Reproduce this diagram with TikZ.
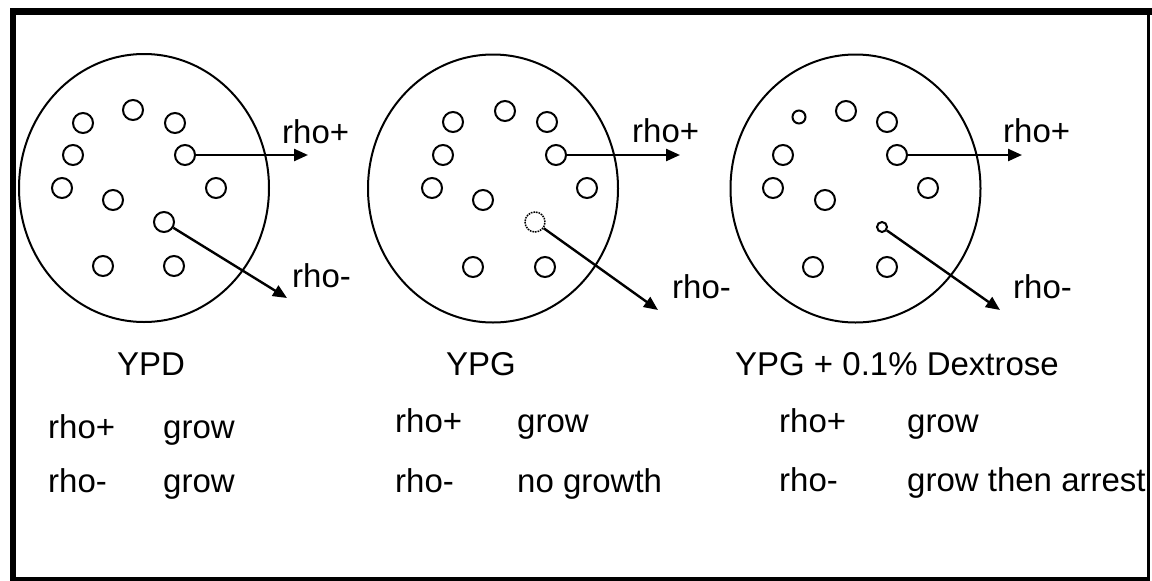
\documentclass[tikz,border=0pt]{standalone}
\usepackage{fontspec}
\setmainfont{Liberation Sans}
\usetikzlibrary{arrows.meta,shapes.geometric}
\begin{document}
\begin{tikzpicture}[x=1pt,y=-1pt,
  plate/.style={draw, ellipse, line width=2pt, minimum width=250pt, minimum height=268pt, inner sep=0pt},
  colony/.style={draw, circle, line width=2pt, minimum size=20pt, inner sep=0pt},
  smallcol/.style={colony, minimum size=#1},
  faintcol/.style={colony, line width=1.5pt, dash pattern=on 1.6pt off 1pt},
  arr/.style={line width=2.4pt, -{Triangle[length=14pt,width=12pt]}},
  lbl/.style={anchor=base west, inner sep=0pt, font=\fontsize{33}{40}\selectfont},
  title/.style={anchor=base, inner sep=0pt, font=\fontsize{33}{40}\selectfont},
  frameline/.style={line width=#1, line cap=rect}]
\useasboundingbox (0,0) rectangle (1152,581);
\fill[white] (0,0) rectangle (1152,581);
% frame
\draw[frameline=6pt] (13,11) -- (13,578);
\draw[frameline=7pt] (13,11.5) -- (1148,11.5);
\draw[frameline=3pt] (1148,11) -- (1148,578);
\draw[frameline=4pt] (13,578.5) -- (1148,578.5);

% ---------- plate 1 (YPD)
\node[plate] (P1) at (144,188) {};
\node[colony] (a1) at (83,123) {};
\node[colony] (a2) at (133,110) {};
\node[colony] (a3) at (175,123) {};
\node[colony] (a4) at (73,155) {};
\node[colony] (a5) at (185,155) {};
\node[colony] (a6) at (62,188) {};
\node[colony] (a7) at (113,200) {};
\node[colony] (a8) at (216,188) {};
\node[colony] (a9) at (164,222) {};
\node[colony] (a10) at (103,266) {};
\node[colony] (a11) at (174,266) {};
\coordinate (a5t) at (308,155);
\coordinate (a9t) at (287,298);
\draw[arr] (a5.east) -- (a5t);
\draw[arr] (a9) -- (a9t);
\node[lbl] (a5l) at (282,143) {rho+};
\node[lbl] (a9l) at (292,287) {rho-};

% ---------- plate 2 (YPG)
\node[plate] (P2) at (493,188.5) {};
\node[colony] (b1) at (453,122) {};
\node[colony] (b2) at (505,111) {};
\node[colony] (b3) at (547,122) {};
\node[colony] (b4) at (443,155) {};
\node[colony] (b5) at (556,155) {};
\node[colony] (b6) at (432,188) {};
\node[colony] (b7) at (483,200) {};
\node[colony] (b8) at (587,188) {};
\node[faintcol] (b9) at (535,222) {};
\node[colony] (b10) at (473,267) {};
\node[colony] (b11) at (545,267) {};
\coordinate (b5t) at (680,155);
\coordinate (b9t) at (658,310);
\draw[arr] (b5.east) -- (b5t);
\draw[arr] (b9) -- (b9t);
\node[lbl] (b5l) at (632,142) {rho+};
\node[lbl] (b9l) at (672,298) {rho-};

% ---------- plate 3 (YPG + 0.1% Dextrose)
\node[plate] (P3) at (855.5,188.5) {};
\node[smallcol=13pt] (c1) at (799,117) {};
\node[colony] (c2) at (846,111) {};
\node[colony] (c3) at (887,122) {};
\node[colony] (c4) at (783,155) {};
\node[colony] (c5) at (897,155) {};
\node[colony] (c6) at (773,188) {};
\node[colony] (c7) at (825,200) {};
\node[colony] (c8) at (928,188) {};
\node[smallcol=10pt] (c9) at (882,227) {};
\node[colony] (c10) at (813,267) {};
\node[colony] (c11) at (887,267) {};
\coordinate (c5t) at (1022,155);
\coordinate (c9t) at (1000,310);
\draw[arr] (c5.east) -- (c5t);
\draw[arr] (c9) -- (c9t);
\node[lbl] (c5l) at (1003,142) {rho+};
\node[lbl] (c9l) at (1013,298) {rho-};

% ---------- captions
\node[title] (t1) at (151,375) {YPD};
\node[title] (t2) at (481,375) {YPG};
\node[title] (t3) at (897,375) {YPG + 0.1\% Dextrose};

\node[lbl] (r1a) at (48,438) {rho+};
\node[lbl] (g1a) at (163,438) {grow};
\node[lbl] (r1b) at (48,492) {rho-};
\node[lbl] (g1b) at (163,492) {grow};

\node[lbl] (r2a) at (395,432) {rho+};
\node[lbl] (g2a) at (517,432) {grow};
\node[lbl] (r2b) at (395,492) {rho-};
\node[lbl] (g2b) at (517,492) {no growth};

\node[lbl] (r3a) at (779,432) {rho+};
\node[lbl] (g3a) at (907,432) {grow};
\node[lbl] (r3b) at (779,491) {rho-};
\node[lbl] (g3b) at (907,491) {grow then arrest};
\end{tikzpicture}
\end{document}
